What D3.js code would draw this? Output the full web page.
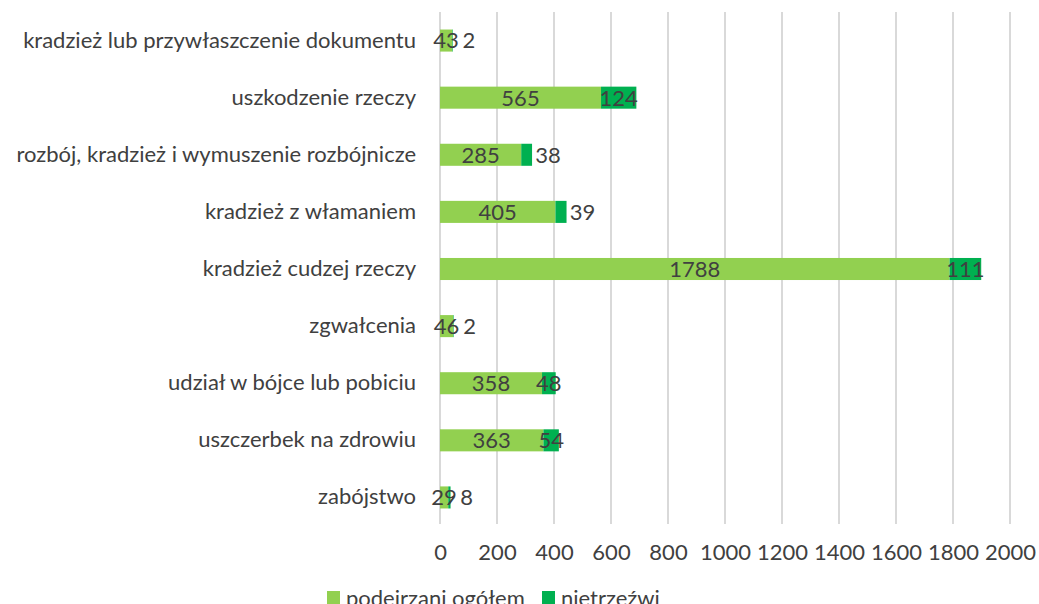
<!DOCTYPE html>
<html>
<head>
<meta charset="utf-8">
<script src="https://cdn.jsdelivr.net/npm/d3@7/dist/d3.min.js"></script>
<style>
  html, body { margin: 0; padding: 0; background: #fff; }
  svg { display: block; font-family: Lato, "Open Sans", sans-serif; }
</style>
</head>
<body>
<svg id="chart" width="1039" height="604"></svg>
<script>
const categories = [
  "kradzież lub przywłaszczenie dokumentu",
  "uszkodzenie rzeczy",
  "rozbój, kradzież i wymuszenie rozbójnicze",
  "kradzież z włamaniem",
  "kradzież cudzej rzeczy",
  "zgwałcenia",
  "udział w bójce lub pobiciu",
  "uszczerbek na zdrowiu",
  "zabójstwo"
];
const seriesNames = ["podejrzani ogółem", "nietrzeźwi"];
const podejrzani = [43, 565, 285, 405, 1788, 46, 358, 363, 29];
const nietrzezwi = [2, 124, 38, 39, 111, 2, 48, 54, 8];
const xTicks = [0, 200, 400, 600, 800, 1000, 1200, 1400, 1600, 1800, 2000];

const colors = ["#92D050", "#00B050"];
const textColor = "#404040";
const fontSize = 22;
const fontFamily = "Lato, 'Open Sans', sans-serif";

const svg = d3.select("#chart");
const x = d3.scaleLinear().domain([0, 2000]).range([440, 1010]);
const y = d3.scaleBand().domain(categories).range([12, 526]).paddingInner(0.614).paddingOuter(0.307);

// gridlines
svg.append("g").selectAll("line").data(xTicks).join("line")
  .attr("x1", d => x(d)).attr("x2", d => x(d))
  .attr("y1", 12).attr("y2", 524)
  .attr("stroke", "#d9d9d9").attr("stroke-width", 2);

// x axis labels
const xAxis = d3.axisBottom(x).tickValues(xTicks).tickSize(0).tickPadding(0).tickFormat(d3.format("d"));
const gx = svg.append("g").attr("transform", "translate(0,552)").call(xAxis);
gx.select(".domain").remove();
gx.selectAll("text").attr("fill", textColor).attr("font-size", fontSize)
  .attr("font-family", fontFamily).attr("dy", "0.36em");

// y axis labels
const yAxis = d3.axisLeft(y).tickSize(0).tickPadding(24);
const gy = svg.append("g").attr("transform", "translate(440,0)").call(yAxis);
gy.select(".domain").remove();
gy.selectAll("text").attr("fill", textColor).attr("font-size", fontSize)
  .attr("font-family", fontFamily);

// stacked data
const rows = categories.map((c, i) => ({ cat: c, v0: podejrzani[i], v1: nietrzezwi[i] }));
const stack = d3.stack().keys(["v0", "v1"])(rows);

stack.forEach((layer, li) => {
  svg.append("g").selectAll("rect").data(layer).join("rect")
    .attr("x", d => x(d[0]))
    .attr("width", d => x(d[1]) - x(d[0]))
    .attr("y", d => y(d.data.cat))
    .attr("height", y.bandwidth())
    .attr("fill", colors[li]);
});

// labels
stack.forEach((layer, li) => {
  const g = svg.append("g");
  layer.forEach(d => {
    const val = d[1] - d[0];
    const segW = x(d[1]) - x(d[0]);
    let cx = (x(d[0]) + x(d[1])) / 2;
    if (li === 1 && segW < 12.5) cx = x(d[1]) + 16;
    g.append("text")
      .attr("x", cx)
      .attr("y", y(d.data.cat) + y.bandwidth() / 2)
      .attr("dy", "0.36em")
      .attr("text-anchor", "middle")
      .attr("fill", textColor)
      .attr("font-size", fontSize)
      .text(val);
  });
});

// legend
const leg = svg.append("g");
const legX = [327, 542];
seriesNames.forEach((n, i) => {
  leg.append("rect").attr("x", legX[i]).attr("y", 591).attr("width", 13).attr("height", 13).attr("fill", colors[i]);
  leg.append("text").attr("x", legX[i] + 19).attr("y", 598).attr("dy", "0.36em")
    .attr("fill", textColor).attr("font-size", fontSize).text(n);
});
</script>
</body>
</html>
